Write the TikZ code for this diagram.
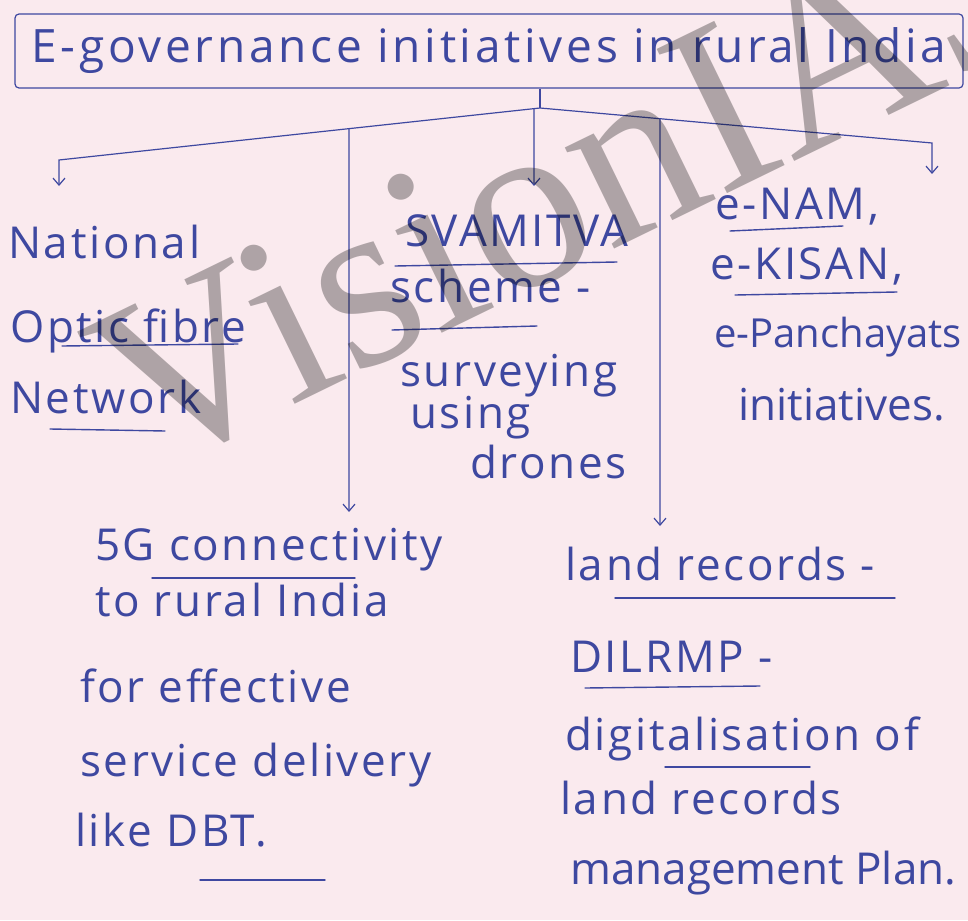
\documentclass[tikz,border=0pt]{standalone}
\usepackage{fontspec}
\setmainfont{Open Sans}
\newfontfamily\wmfont{Liberation Serif}
\usetikzlibrary{arrows.meta}

\definecolor{paper}{RGB}{250,234,238}
\definecolor{ink}{RGB}{62,72,160}

\tikzset{
  hand/.style={anchor=base west, inner sep=0pt, text=ink,
               font=\fontsize{44}{48}\selectfont\addfontfeatures{LetterSpace=6}},
  handtight/.style={hand, font=\fontsize{44}{48}\selectfont},
  wire/.style={draw=ink, line width=1.2pt},
  arrow/.style={wire, -{Straight Barb[length=7pt,width=12pt]}},
  uline/.style={draw=ink, line width=1.4pt, line cap=round},
}

\begin{document}
\begin{tikzpicture}[x=1pt,y=-1pt]
  \useasboundingbox (0,0) rectangle (968,920);
  \fill[paper] (0,0) rectangle (968,920);

  % heading
  \node[draw=ink, line width=1.2pt, rounded corners=4pt,
        minimum width=948pt, minimum height=74pt, text=ink,
        font=\fontsize{46}{50}\selectfont\addfontfeatures{LetterSpace=8}]
        (title) at (489,51) {E-governance initiatives in rural India};

  % branches
  \coordinate (fork) at (540,108);
  \coordinate (lcorner) at (59,160);
  \coordinate (rcorner) at (932,143);
  \coordinate (nofnin) at (59,186);
  \coordinate (schemein) at (534,186);
  \coordinate (enamin) at (932,174);
  \coordinate (fivegin) at (349,512);
  \coordinate (landin) at (660,526);
  \path (fork) -- (lcorner) coordinate[pos=0.397] (lj)
                            coordinate[pos=0.0125] (mj);
  \path (fork) -- (rcorner) coordinate[pos=0.306] (rj);

  \draw[wire] (title.south -| fork) -- (fork);
  \draw[arrow] (fork) -- (lcorner) -- (nofnin);
  \draw[arrow] (fork) -- (rcorner) -- (enamin);
  \draw[arrow] (mj) -- (schemein);
  \draw[arrow] (lj) -- (fivegin);
  \draw[arrow] (rj) -- (landin);

  % National Optic fibre Network
  \node[hand] (nofn1) at (8,258) {National};
  \node[hand] (nofn2) at (10,342) {Optic fibre};
  \node[hand] (nofn3) at (10,413) {Network};
  \draw[uline] (62,346) -- (238,344);
  \draw[uline] (50,429) -- (165,431);

  % SVAMITVA
  \node[hand] (sva1) at (405,246) {SVAMITVA};
  \node[hand] (sva2) at (390,302) {scheme -};
  \node[hand] (sva3) at (400,386) {surveying};
  \node[hand] (sva4) at (410,428) {using};
  \node[hand] (sva5) at (470,478) {drones};
  \draw[uline] (395,266) -- (617,262);
  \draw[uline] (392,330) -- (537,326);

  % e-NAM and others
  \node[hand] (enam1) at (715,219) {e-NAM,};
  \node[hand] (enam2) at (710,279) {e-KISAN,};
  \node[hand, font=\fontsize{40}{44}\selectfont] (enam3) at (714,347) {e-Panchayats};
  \node[handtight] (enam4) at (738,420) {initiatives.};
  \draw[uline] (730,231) -- (843,226);
  \draw[uline] (735,295) -- (897,292);

  % 5G connectivity
  \node[hand] (fiveg1) at (95,560) {5G connectivity};
  \node[hand] (fiveg2) at (95,616) {to rural India};
  \node[hand] (fiveg3) at (80,702) {for effective};
  \node[hand] (fiveg4) at (80,776) {service delivery};
  \node[hand] (fiveg5) at (75,846) {like DBT.};
  \draw[uline] (152,578) -- (355,578);
  \draw[uline] (200,880) -- (325,880);

  % land records
  \node[hand] (land1) at (565,580) {land records -};
  \node[hand] (land2) at (570,672) {DILRMP -};
  \node[hand] (land3) at (565,750) {digitalisation of};
  \node[hand] (land4) at (560,814) {land records};
  \node[handtight] (land5) at (570,884) {management Plan.};
  \draw[uline] (615,598) -- (895,598);
  \draw[uline] (585,688) -- (760,686);
  \draw[uline] (665,767) -- (810,767);

  % watermark
  \begin{scope}[shift={(145,478)}]
    \clip (-145,-478) rectangle (823,442);
    \node[anchor=base west, inner sep=0pt, rotate=26, text=black,
          opacity=0.3, font=\wmfont\fontsize{245}{245}\selectfont]
          (mark) at (0,0) {VisionIAS};
  \end{scope}
\end{tikzpicture}
\end{document}
